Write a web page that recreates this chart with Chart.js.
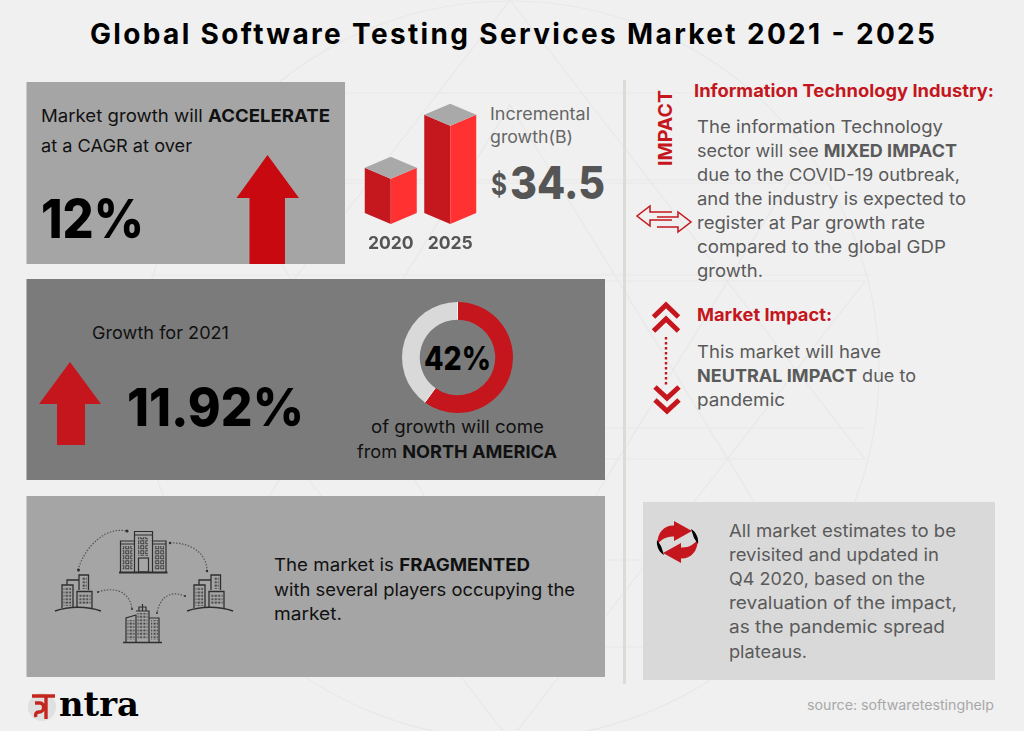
<!DOCTYPE html>
<html>
<head>
<meta charset="utf-8">
<title>Global Software Testing Services Market 2021 - 2025</title>
<script src="https://cdn.jsdelivr.net/npm/chart.js@4/dist/chart.umd.min.js"></script>
<style>
  html, body { margin: 0; padding: 0; background: #f0f0f0; }
  #page { position: relative; width: 1024px; height: 731px; overflow: hidden; font-family: Inter, "Open Sans", sans-serif; }
  #art { position: absolute; left: 0; top: 0; }
  canvas { position: absolute; }
  #barChart { left: 361px; top: 100px; }
  #shareChart { left: 402px; top: 302px; }
  text { font-family: Inter, "Open Sans", sans-serif; }
  .b { font-weight: 700; }
  .xb { font-weight: 800; }
  .body { font-size: 17.5px; fill: #5a5a5a; }
  .dark { font-size: 17.5px; fill: #111; }
  .head { font-size: 17.5px; font-weight: 700; fill: #c4161c; }
</style>
</head>
<body>
<div id="page">
<svg id="art" width="1024" height="731" viewBox="0 0 1024 731">
  <defs>
    <pattern id="win" width="5" height="5" patternUnits="userSpaceOnUse">
      <rect x="0.8" y="0.8" width="3" height="3" fill="none" stroke="#333" stroke-width="0.9"/>
    </pattern>
    <pattern id="winS" width="3.4" height="3.4" patternUnits="userSpaceOnUse">
      <rect x="0.5" y="0.5" width="2.2" height="1.8" fill="#444"/>
    </pattern>
    <g id="block">
      <path d="M0,37 C14,32 32,32 46,37" fill="none" stroke="#2e2e2e" stroke-width="1.4"/>
      <path d="M7,34 V11 H18 V34 M12,11 V6 H24 M24,16 V1 H33.5 V16 M22,34 V17.5 H37 V34" fill="none" stroke="#2e2e2e" stroke-width="1.3"/>
      <rect x="8.5" y="13" width="8" height="19" fill="url(#winS)"/>
      <rect x="23.5" y="20" width="12" height="10" fill="url(#winS)"/>
      <rect x="27" y="3" width="5" height="12" fill="url(#winS)"/>
    </g>
  </defs>

  <!-- faint background geometry -->
  <g fill="none" stroke="#e8e8e8" stroke-width="1.2">
    <circle cx="510" cy="370" r="369"/>
    <path d="M510,0 L865,459 H155 Z"/>
    <path d="M510,740 L865,281 H155 Z"/>
    <path d="M266,93 H754 M192,183 H828 M150,275 H870 M155,428 H865 M266,647 H754"/>
    <path d="M510,105 L790,560 H230 Z M510,635 L790,180 H230 Z"/>
  </g>

  <!-- panels -->
  <rect x="26.5" y="82" width="318.5" height="182" fill="#a5a5a5"/>
  <rect x="26.5" y="279" width="578.5" height="201" fill="#7b7b7b"/>
  <rect x="26.5" y="496" width="578.5" height="181" fill="#a5a5a5"/>
  <rect x="643" y="502" width="352" height="178" fill="#d9d9d9"/>
  <rect x="623" y="80" width="3" height="604" fill="#dcdbd6"/>

  <text x="90" y="44" font-size="28" class="b" fill="#000" textLength="845" data-keep="1">Global Software Testing Services Market 2021 - 2025</text>

  <!-- growth panel -->
  <text x="41" y="121.5" class="dark" textLength="289">Market growth will <tspan class="b">ACCELERATE</tspan></text>
  <text x="41" y="151.5" class="dark" textLength="151">at a CAGR at over</text>
  <text x="41" y="238" font-size="53" class="xb" fill="#000" textLength="103">12%</text>
  <path d="M267.5,155 L299,198 H285 V264 H249.5 V198 H236.5 Z" fill="#c8090f"/>

  <text x="490" y="120" font-size="17" fill="#666" textLength="100">Incremental</text>
  <text x="490" y="143" font-size="17" fill="#666" textLength="83">growth(B)</text>
  <text x="491" y="195" font-size="30" class="b" fill="#555" textLength="16">$</text>
  <text x="510" y="199" font-size="45" class="xb" fill="#555" textLength="95">34.5</text>

  <!-- 2021 panel -->
  <text x="92" y="339" class="dark" textLength="137">Growth for 2021</text>
  <path d="M70,362 L101,404 H85 V445 H57 V404 H39 Z" fill="#c4161c"/>
  <text x="127" y="426" font-size="52" class="xb" fill="#000" textLength="177">11.92%</text>
  <text x="424" y="370" font-size="32" class="xb" fill="#000" textLength="67">42%</text>
  <text x="371" y="433" class="dark" textLength="173">of growth will come</text>
  <text x="357" y="458" class="dark" textLength="200">from <tspan class="b">NORTH AMERICA</tspan></text>

  <!-- fragmented panel -->
  <g fill="none" stroke="#2e2e2e" stroke-width="1.2">
    <path d="M119,572.5 H167.5" stroke-width="2"/>
    <path d="M120.5,572 V541 H134.5 V531.5 H152.5 V541 H166 V572"/>
    <path d="M120.5,544 H134.5 M152.5,544 H166 M134.5,535 H152.5 M134.5,541 V572 M152.5,541 V572"/>
    <rect x="138.5" y="558" width="10" height="14"/>
    <rect x="122.5" y="546" width="10" height="24" stroke="none" fill="url(#win)"/>
    <rect x="154.5" y="546" width="10" height="24" stroke="none" fill="url(#win)"/>
    <rect x="138" y="537" width="10" height="19" stroke="none" fill="url(#win)"/>
    <path d="M123,642.5 H162" stroke-width="1.6"/>
    <path d="M126,642 V618 L136,615 V642 M136,611 H149 V642 M149,618 H159 V642 M142.5,611 V604 M139,611 V607 H146 V611"/>
    <rect x="127.5" y="620" width="7" height="20" stroke="none" fill="url(#winS)"/>
    <rect x="137.5" y="613" width="10" height="26" stroke="none" fill="url(#winS)"/>
    <rect x="151" y="620" width="7" height="20" stroke="none" fill="url(#winS)"/>
    <g stroke-dasharray="1.5 1.5" stroke="#555">
      <path d="M78,570 C84,548 105,526 127,531"/>
      <path d="M170,543 C190,542 207,553 207,571"/>
      <path d="M98,592 C115,586 130,592 132,609"/>
      <path d="M185,596 C170,590 160,597 157,613"/>
    </g>
  </g>
  <g fill="#2e2e2e"><circle cx="78.5" cy="570" r="1.5"/><circle cx="127" cy="531" r="1.5"/><circle cx="170" cy="543" r="1.2"/><circle cx="207" cy="571" r="1.2"/><circle cx="98" cy="592" r="1"/><circle cx="132" cy="609" r="1"/><circle cx="185" cy="596" r="1"/><circle cx="157" cy="613" r="1"/></g>
  <use href="#block" x="55" y="574"/>
  <use href="#block" x="187" y="574"/>
  <text x="274" y="571" class="dark" textLength="256">The market is <tspan class="b">FRAGMENTED</tspan></text>
  <text x="274" y="596" class="dark" textLength="301">with several players occupying the</text>
  <text x="274" y="620" class="dark" textLength="68">market.</text>

  <!-- impact column -->
  <text transform="translate(672,166) rotate(-90)" font-size="19" class="b" fill="#c4161c" textLength="76">IMPACT</text>
  <path d="M672,212 H650 V206 L637,216 L650,226 V220 H672 M657,217 H678 V212 L691,222 L678,232 V227 H657" fill="none" stroke="#c4161c" stroke-width="1.5"/>
  <g fill="none" stroke="#c4161c" stroke-width="5">
    <path d="M653.5,317 L666,305 L678.5,317 M653.5,331 L666,319 L678.5,331"/>
    <path d="M655,387 L667,398 L679,387 M655,400 L667,411 L679,400"/>
  </g>
  <path d="M666,337 V385" stroke="#c4161c" stroke-width="2.4" stroke-dasharray="2.4 2.6" fill="none"/>

  <text x="694" y="97" class="head" textLength="300">Information Technology Industry:</text>
  <text x="697" y="133" class="body" textLength="246">The information Technology</text>
  <text x="697" y="157" class="body" textLength="260">sector will see <tspan class="b">MIXED IMPACT</tspan></text>
  <text x="697" y="181" class="body" textLength="263">due to the COVID-19 outbreak,</text>
  <text x="697" y="205" class="body" textLength="269">and the industry is expected to</text>
  <text x="697" y="229" class="body" textLength="228">register at Par growth rate</text>
  <text x="697" y="253" class="body" textLength="249">compared to the global GDP</text>
  <text x="697" y="277" class="body" textLength="66">growth.</text>
  <text x="697" y="321" class="head" textLength="135">Market Impact:</text>
  <text x="697" y="358" class="body" textLength="184">This market will have</text>
  <text x="697" y="382" class="body" textLength="219"><tspan class="b">NEUTRAL IMPACT</tspan> due to</text>
  <text x="697" y="406" class="body" textLength="88">pandemic</text>

  <!-- estimates panel -->
  <g id="cycle">
    <path d="M657.5,544 C657,532 665,525 674,525.5 V521 L692,531 L674,541 V536.5 C666,536 661,540 657.5,544 Z" fill="#c4161c"/>
    <path d="M657,540 C656,547 660,553 664,555 L661,546 Z" fill="#000"/>
  </g>
  <use href="#cycle" transform="rotate(180 677.5 542)"/>
  <text x="729" y="537" class="body" textLength="227">All market estimates to be</text>
  <text x="729" y="561" class="body" textLength="210">revisited and updated in</text>
  <text x="729" y="585" class="body" textLength="196">Q4 2020, based on the</text>
  <text x="729" y="609" class="body" textLength="228">revaluation of the impact,</text>
  <text x="729" y="633" class="body" textLength="216">as the pandemic spread</text>
  <text x="729" y="658" class="body" textLength="78">plateaus.</text>

  <!-- logo and source -->
  <circle cx="42" cy="707" r="14" fill="#e0e0e0"/>
  <path d="M32,696 H55 M46,696 V719 M35,703 H40 C45,703 45,712 39,712 C36,712 35,714 36,717" fill="none" stroke="#c4261f" stroke-width="3.4"/>
  <text x="59" y="716" font-size="33" font-weight="700" fill="#000" style="font-family:'DejaVu Serif','Liberation Serif',serif" textLength="80">ntra</text>
  <text x="807" y="710" font-size="13.5" fill="#a8a8a8" textLength="187">source: softwaretestinghelp</text>
</svg>
<canvas id="barChart" width="119" height="155"></canvas>
<canvas id="shareChart" width="111" height="111"></canvas>
</div>

<script>
// values, 2020/2025 bars scaled so the gap is the $34.5B label
const years = ['2020', '2025'];
const marketSize = [29.6, 64.1];
const shareLabels = ['North America', 'Rest'];
const shareValues = [60, 40];

const red = '#c4161c';

// stretch glyphs to the measured line widths, the title keeps plain letter spacing
document.querySelectorAll('#art text:not([data-keep])').forEach(t => t.setAttribute('lengthAdjust', 'spacingAndGlyphs'));

// Isometric look for the bars, uses the positions the bar scale worked out
const isoBars = {
  id: 'isoBars',
  afterDatasetsDraw(chart) {
    const ctx = chart.ctx;
    chart.getDatasetMeta(0).data.forEach(bar => {
      const half = bar.width / 2;
      const rise = 11;
      const poly = (color, pts) => {
        ctx.fillStyle = color;
        ctx.beginPath();
        pts.forEach((p, i) => i ? ctx.lineTo(p[0], p[1]) : ctx.moveTo(p[0], p[1]));
        ctx.closePath();
        ctx.fill();
      };
      poly('#c4181e', [[bar.x, bar.y], [bar.x - half, bar.y - rise], [bar.x - half, bar.base - rise], [bar.x, bar.base]]);
      poly('#ff3131', [[bar.x, bar.y], [bar.x + half, bar.y - rise], [bar.x + half, bar.base - rise], [bar.x, bar.base]]);
      poly('#a9a9a9', [[bar.x, bar.y], [bar.x - half, bar.y - rise], [bar.x, bar.y - rise * 2], [bar.x + half, bar.y - rise]]);
    });
  },
};

new Chart(document.getElementById('barChart'), {
  type: 'bar',
  data: {
    labels: years,
    datasets: [{ label: 'Market size', data: marketSize, backgroundColor: 'transparent', barThickness: 52 }],
  },
  options: {
    responsive: false,
    animation: false,
    layout: { padding: 0 },
    plugins: { legend: { display: false }, tooltip: { enabled: false } },
    scales: {
      x: {
        grid: { display: false },
        border: { display: false },
        ticks: { color: '#555', padding: 1, font: { family: 'Inter', size: 17.5, weight: '700' } },
      },
      y: { display: false, min: 0, max: 81 },
    },
  },
  plugins: [isoBars],
});

// thin white seam where the two slices meet
const seam = {
  id: 'seam',
  afterDatasetsDraw(chart) {
    const ctx = chart.ctx;
    chart.getDatasetMeta(0).data.forEach(arc => {
      const a = arc.endAngle;
      ctx.strokeStyle = '#f5f5f5';
      ctx.lineWidth = 1;
      ctx.beginPath();
      ctx.moveTo(arc.x + Math.cos(a) * arc.innerRadius, arc.y + Math.sin(a) * arc.innerRadius);
      ctx.lineTo(arc.x + Math.cos(a) * arc.outerRadius, arc.y + Math.sin(a) * arc.outerRadius);
      ctx.stroke();
    });
  },
};

new Chart(document.getElementById('shareChart'), {
  type: 'doughnut',
  data: {
    labels: shareLabels,
    datasets: [{ data: shareValues, backgroundColor: [red, '#d9d9d9'], borderWidth: 0 }],
  },
  options: {
    responsive: false,
    animation: false,
    cutout: '68%',
    plugins: { legend: { display: false }, tooltip: { enabled: false } },
  },
  plugins: [seam],
});
</script>
</body>
</html>
